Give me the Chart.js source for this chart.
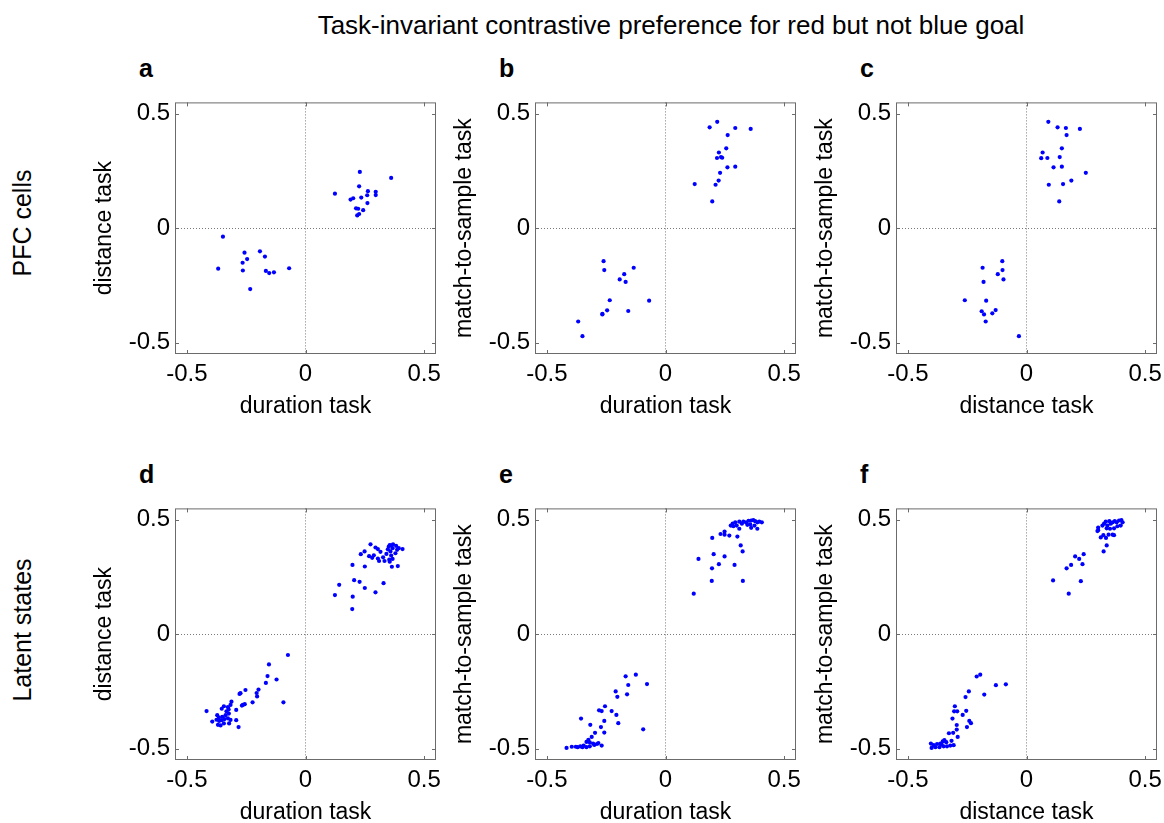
<!DOCTYPE html>
<html>
<head>
<meta charset="utf-8">
<script src="https://cdn.jsdelivr.net/npm/chart.js@4/dist/chart.umd.min.js"></script>
<style>
  body { margin: 0; background: #fff; width: 1164px; height: 823px; position: relative; overflow: hidden;
         font-family: "Liberation Sans", Arial, sans-serif; color: #000; }
  canvas { position: absolute; }
  .title { position: absolute; left: 671px; top: 12px; font-size: 26px; line-height: 26px;
           transform: translateX(-50%); white-space: nowrap; }
  .letter { position: absolute; font-size: 25px; line-height: 25px; font-weight: bold; }
  .row { position: absolute; left: 22px; font-size: 25px; line-height: 25px; white-space: nowrap;
         transform: translate(-50%, -50%) rotate(-90deg); }
</style>
</head>
<body>
<div class="title">Task-invariant contrastive preference for red but not blue goal</div>
<div class="row" style="top:223px">PFC cells</div>
<div class="row" style="top:630px">Latent states</div>
<div class="letter" style="left:139px;top:56px">a</div>
<div class="letter" style="left:499px;top:56px">b</div>
<div class="letter" style="left:860px;top:56px">c</div>
<div class="letter" style="left:139px;top:462px">d</div>
<div class="letter" style="left:499px;top:462px">e</div>
<div class="letter" style="left:860px;top:462px">f</div>

<canvas id="chart-a" width="366" height="346" style="left:85px;top:83px"></canvas>
<canvas id="chart-b" width="366" height="346" style="left:445px;top:83px"></canvas>
<canvas id="chart-c" width="366" height="346" style="left:806px;top:83px"></canvas>
<canvas id="chart-d" width="366" height="346" style="left:85px;top:489px"></canvas>
<canvas id="chart-e" width="366" height="346" style="left:445px;top:489px"></canvas>
<canvas id="chart-f" width="366" height="346" style="left:806px;top:489px"></canvas>

<script>
const tickValues = [-0.5, 0, 0.5];
const axisMin = -0.55;
const axisMax = 0.55;

// a: duration vs distance (PFC cells)
const pointsA = [
  [0.124,0.151],[0.229,0.246],[0.361,0.220],[0.226,0.183],[0.263,0.162],[0.296,0.159],
  [0.296,0.145],[0.260,0.144],[0.235,0.134],[0.201,0.131],[0.190,0.125],[0.261,0.110],
  [0.213,0.087],[0.222,0.085],[0.243,0.079],[0.226,0.062],[0.218,0.056],
  [-0.348,-0.037],[-0.368,-0.177],[-0.257,-0.107],[-0.265,-0.151],[-0.246,-0.135],
  [-0.264,-0.185],[-0.233,-0.266],[-0.192,-0.101],[-0.171,-0.124],[-0.167,-0.187],
  [-0.153,-0.196],[-0.133,-0.193],[-0.069,-0.175]
];

// b: duration vs match-to-sample (PFC cells)
const pointsB = [
  [0.218,0.465],[0.186,0.441],[0.294,0.438],[0.359,0.434],[0.262,0.407],[0.256,0.349],
  [0.225,0.331],[0.234,0.311],[0.239,0.308],[0.217,0.307],[0.261,0.266],[0.294,0.269],
  [0.230,0.242],[0.224,0.208],[0.211,0.190],[0.123,0.193],[0.197,0.117],
  [-0.261,-0.144],[-0.258,-0.183],[-0.134,-0.173],[-0.174,-0.201],[-0.193,-0.224],
  [-0.168,-0.235],[-0.235,-0.315],[-0.069,-0.317],[-0.246,-0.359],[-0.266,-0.375],
  [-0.266,-0.377],[-0.157,-0.362],[-0.368,-0.408],[-0.350,-0.472]
];

// c: distance vs match-to-sample (PFC cells)
const pointsC = [
  [0.092,0.465],[0.131,0.441],[0.166,0.438],[0.225,0.434],[0.169,0.407],[0.149,0.349],
  [0.068,0.331],[0.062,0.306],[0.088,0.307],[0.140,0.311],[0.114,0.266],[0.149,0.269],
  [0.250,0.242],[0.189,0.208],[0.154,0.193],[0.094,0.190],[0.138,0.117],
  [-0.102,-0.144],[-0.185,-0.173],[-0.101,-0.183],[-0.121,-0.201],[-0.097,-0.224],
  [-0.181,-0.235],[-0.260,-0.315],[-0.170,-0.317],[-0.130,-0.358],[-0.144,-0.372],
  [-0.189,-0.363],[-0.179,-0.377],[-0.172,-0.408],[-0.032,-0.472]
];

// d: duration vs distance (latent states)
const pointsD = [
  [0.124,0.171],[0.142,0.216],[0.198,0.303],[0.205,0.236],[0.199,0.164],[0.197,0.110],
  [0.228,0.229],[0.233,0.350],[0.250,0.296],[0.250,0.202],[0.295,0.183],[0.329,0.223],
  [0.249,0.362],[0.274,0.393],[0.268,0.341],[0.281,0.334],[0.295,0.379],[0.305,0.372],
  [0.305,0.331],[0.310,0.320],[0.316,0.360],[0.327,0.336],[0.333,0.320],[0.347,0.371],
  [0.351,0.383],[0.355,0.390],[0.361,0.388],[0.367,0.376],[0.358,0.362],[0.361,0.344],
  [0.353,0.326],[0.367,0.329],[0.355,0.317],[0.364,0.295],[0.382,0.386],[0.386,0.369],
  [0.393,0.376],[0.409,0.372],[0.389,0.298],[0.379,0.354],[0.341,0.351],[0.369,0.393],
  [0.288,0.345],
  [-0.074,-0.091],[-0.154,-0.132],[-0.160,-0.183],[-0.122,-0.198],[-0.167,-0.213],
  [-0.093,-0.298],[-0.198,-0.242],[-0.206,-0.257],[-0.204,-0.272],[-0.223,-0.298],
  [-0.253,-0.244],[-0.274,-0.258],[-0.278,-0.261],[-0.256,-0.306],[-0.264,-0.309],
  [-0.268,-0.312],[-0.292,-0.331],[-0.312,-0.295],[-0.316,-0.309],[-0.327,-0.319],
  [-0.324,-0.329],[-0.333,-0.337],[-0.344,-0.315],[-0.353,-0.326],[-0.323,-0.347],
  [-0.337,-0.354],[-0.351,-0.361],[-0.365,-0.365],[-0.372,-0.354],[-0.375,-0.374],
  [-0.364,-0.379],[-0.353,-0.376],[-0.341,-0.371],[-0.327,-0.368],[-0.316,-0.375],
  [-0.322,-0.390],[-0.292,-0.376],[-0.282,-0.406],[-0.393,-0.382],[-0.417,-0.336],
  [-0.358,-0.399],[-0.369,-0.396],[-0.344,-0.390]
];

// e: duration vs match-to-sample (latent states)
const pointsE = [
  [0.119,0.177],[0.139,0.329],[0.195,0.233],[0.196,0.288],[0.203,0.350],[0.197,0.421],
  [0.225,0.306],[0.249,0.340],[0.291,0.303],[0.326,0.233],[0.325,0.362],[0.317,0.388],
  [0.303,0.427],[0.269,0.431],[0.232,0.438],[0.249,0.449],[0.249,0.435],[0.275,0.475],
  [0.283,0.483],[0.294,0.489],[0.300,0.475],[0.311,0.492],[0.311,0.461],[0.322,0.483],
  [0.328,0.492],[0.339,0.489],[0.350,0.496],[0.357,0.480],[0.361,0.497],[0.370,0.499],
  [0.378,0.494],[0.387,0.489],[0.395,0.492],[0.406,0.489],[0.361,0.465],[0.387,0.461],
  [0.375,0.475],[0.345,0.478],[0.286,0.472],
  [-0.125,-0.177],[-0.168,-0.184],[-0.078,-0.218],[-0.157,-0.222],[-0.210,-0.250],
  [-0.162,-0.263],[-0.203,-0.274],[-0.255,-0.315],[-0.280,-0.333],[-0.269,-0.336],
  [-0.227,-0.336],[-0.207,-0.353],[-0.258,-0.379],[-0.199,-0.389],[-0.356,-0.369],
  [-0.317,-0.396],[-0.272,-0.406],[-0.258,-0.430],[-0.297,-0.431],[-0.094,-0.416],
  [-0.311,-0.449],[-0.325,-0.462],[-0.333,-0.471],[-0.319,-0.473],[-0.305,-0.478],
  [-0.289,-0.480],[-0.269,-0.487],[-0.283,-0.476],[-0.345,-0.487],[-0.359,-0.490],
  [-0.370,-0.494],[-0.378,-0.492],[-0.395,-0.492],[-0.417,-0.497],[-0.350,-0.494],
  [-0.333,-0.494],[-0.319,-0.490],[-0.300,-0.484]
];

// f: distance vs match-to-sample (latent states)
const pointsF = [
  [0.112,0.235],[0.178,0.177],[0.169,0.288],[0.188,0.303],[0.205,0.340],[0.222,0.329],
  [0.229,0.232],[0.236,0.306],[0.241,0.350],[0.325,0.362],[0.338,0.388],[0.313,0.423],
  [0.324,0.433],[0.335,0.421],[0.346,0.435],[0.363,0.435],[0.369,0.433],[0.302,0.455],
  [0.302,0.466],[0.299,0.451],[0.327,0.483],[0.334,0.492],[0.341,0.475],[0.349,0.494],
  [0.355,0.483],[0.363,0.489],[0.372,0.494],[0.380,0.489],[0.390,0.497],[0.400,0.499],
  [0.405,0.489],[0.383,0.472],[0.397,0.475],[0.369,0.463],[0.352,0.461],[0.338,0.463],
  [0.320,0.475],
  [-0.210,-0.185],[-0.195,-0.177],[-0.178,-0.264],[-0.129,-0.223],[-0.087,-0.219],
  [-0.243,-0.250],[-0.257,-0.275],[-0.302,-0.315],[-0.305,-0.337],[-0.292,-0.337],
  [-0.269,-0.353],[-0.254,-0.335],[-0.312,-0.369],[-0.241,-0.379],[-0.234,-0.389],
  [-0.251,-0.406],[-0.294,-0.397],[-0.294,-0.417],[-0.327,-0.433],[-0.309,-0.431],
  [-0.290,-0.449],[-0.316,-0.466],[-0.346,-0.463],[-0.353,-0.469],[-0.363,-0.478],
  [-0.377,-0.480],[-0.391,-0.485],[-0.400,-0.497],[-0.384,-0.494],[-0.367,-0.494],
  [-0.349,-0.490],[-0.335,-0.490],[-0.321,-0.487],[-0.307,-0.485],[-0.403,-0.478],
  [-0.338,-0.472],[-0.358,-0.483]
];

const FONT = "'Liberation Sans', Arial, sans-serif";

// box around the plot + small inward tick marks like matlab
const boxPlugin = {
  id: 'box',
  afterDraw(chart) {
    const ctx = chart.ctx;
    const a = chart.chartArea;
    const xs = chart.scales.x, ys = chart.scales.y;
    ctx.save();
    ctx.strokeStyle = '#6b6b6b';
    ctx.lineWidth = 1;
    ctx.strokeRect(a.left + 0.5, a.top + 0.5, a.right - a.left - 1, a.bottom - a.top - 1);
    ctx.beginPath();
    for (const v of tickValues) {
      const px = Math.round(xs.getPixelForValue(v)) + 0.5;
      ctx.moveTo(px, a.bottom); ctx.lineTo(px, a.bottom - 4);
      ctx.moveTo(px, a.top); ctx.lineTo(px, a.top + 4);
      const py = Math.round(ys.getPixelForValue(v)) + 0.5;
      ctx.moveTo(a.left, py); ctx.lineTo(a.left + 4, py);
      ctx.moveTo(a.right, py); ctx.lineTo(a.right - 4, py);
    }
    ctx.stroke();
    ctx.restore();
  }
};

function axis(title, isX) {
  return {
    type: 'linear',
    min: axisMin,
    max: axisMax,
    afterBuildTicks: function(scale) {
      scale.ticks = tickValues.map(v => ({value: v}));
    },
    afterFit: function(scale) {
      if (isX) scale.height = 75; else scale.width = 90;
    },
    grid: {
      drawTicks: false,
      color: ctx => (ctx.tick && ctx.tick.value === 0) ? '#7a7a7a' : 'rgba(0,0,0,0)',
      lineWidth: 1
    },
    border: { display: false, dash: [1, 2] },
    ticks: {
      color: '#000',
      padding: isX ? 6 : 5,
      font: { family: FONT, size: 24 },
      callback: v => String(v)
    },
    title: {
      display: true,
      text: title,
      color: '#000',
      font: { family: FONT, size: 23 },
      padding: isX ? { top: 0, bottom: 9 } : { top: 6, bottom: 0 }
    }
  };
}

function load_panel(id, points, xLabel, yLabel) {
  var ctx = document.getElementById(id).getContext('2d');
  new Chart(ctx, {
    type: 'scatter',
    data: {
      datasets: [{
        data: points.map(p => ({x: p[0], y: p[1]})),
        backgroundColor: '#0000ff',
        borderWidth: 0,
        pointRadius: 2.1
      }]
    },
    options: {
      responsive: false,
      animation: false,
      layout: { padding: { top: 10, right: 15, left: 0, bottom: 0 } },
      plugins: { legend: { display: false }, tooltip: { enabled: false } },
      scales: {
        x: axis(xLabel, true),
        y: axis(yLabel, false)
      }
    },
    plugins: [boxPlugin]
  });
}

load_panel('chart-a', pointsA, 'duration task', 'distance task');
load_panel('chart-b', pointsB, 'duration task', 'match-to-sample task');
load_panel('chart-c', pointsC, 'distance task', 'match-to-sample task');
load_panel('chart-d', pointsD, 'duration task', 'distance task');
load_panel('chart-e', pointsE, 'duration task', 'match-to-sample task');
load_panel('chart-f', pointsF, 'distance task', 'match-to-sample task');
</script>
</body>
</html>
